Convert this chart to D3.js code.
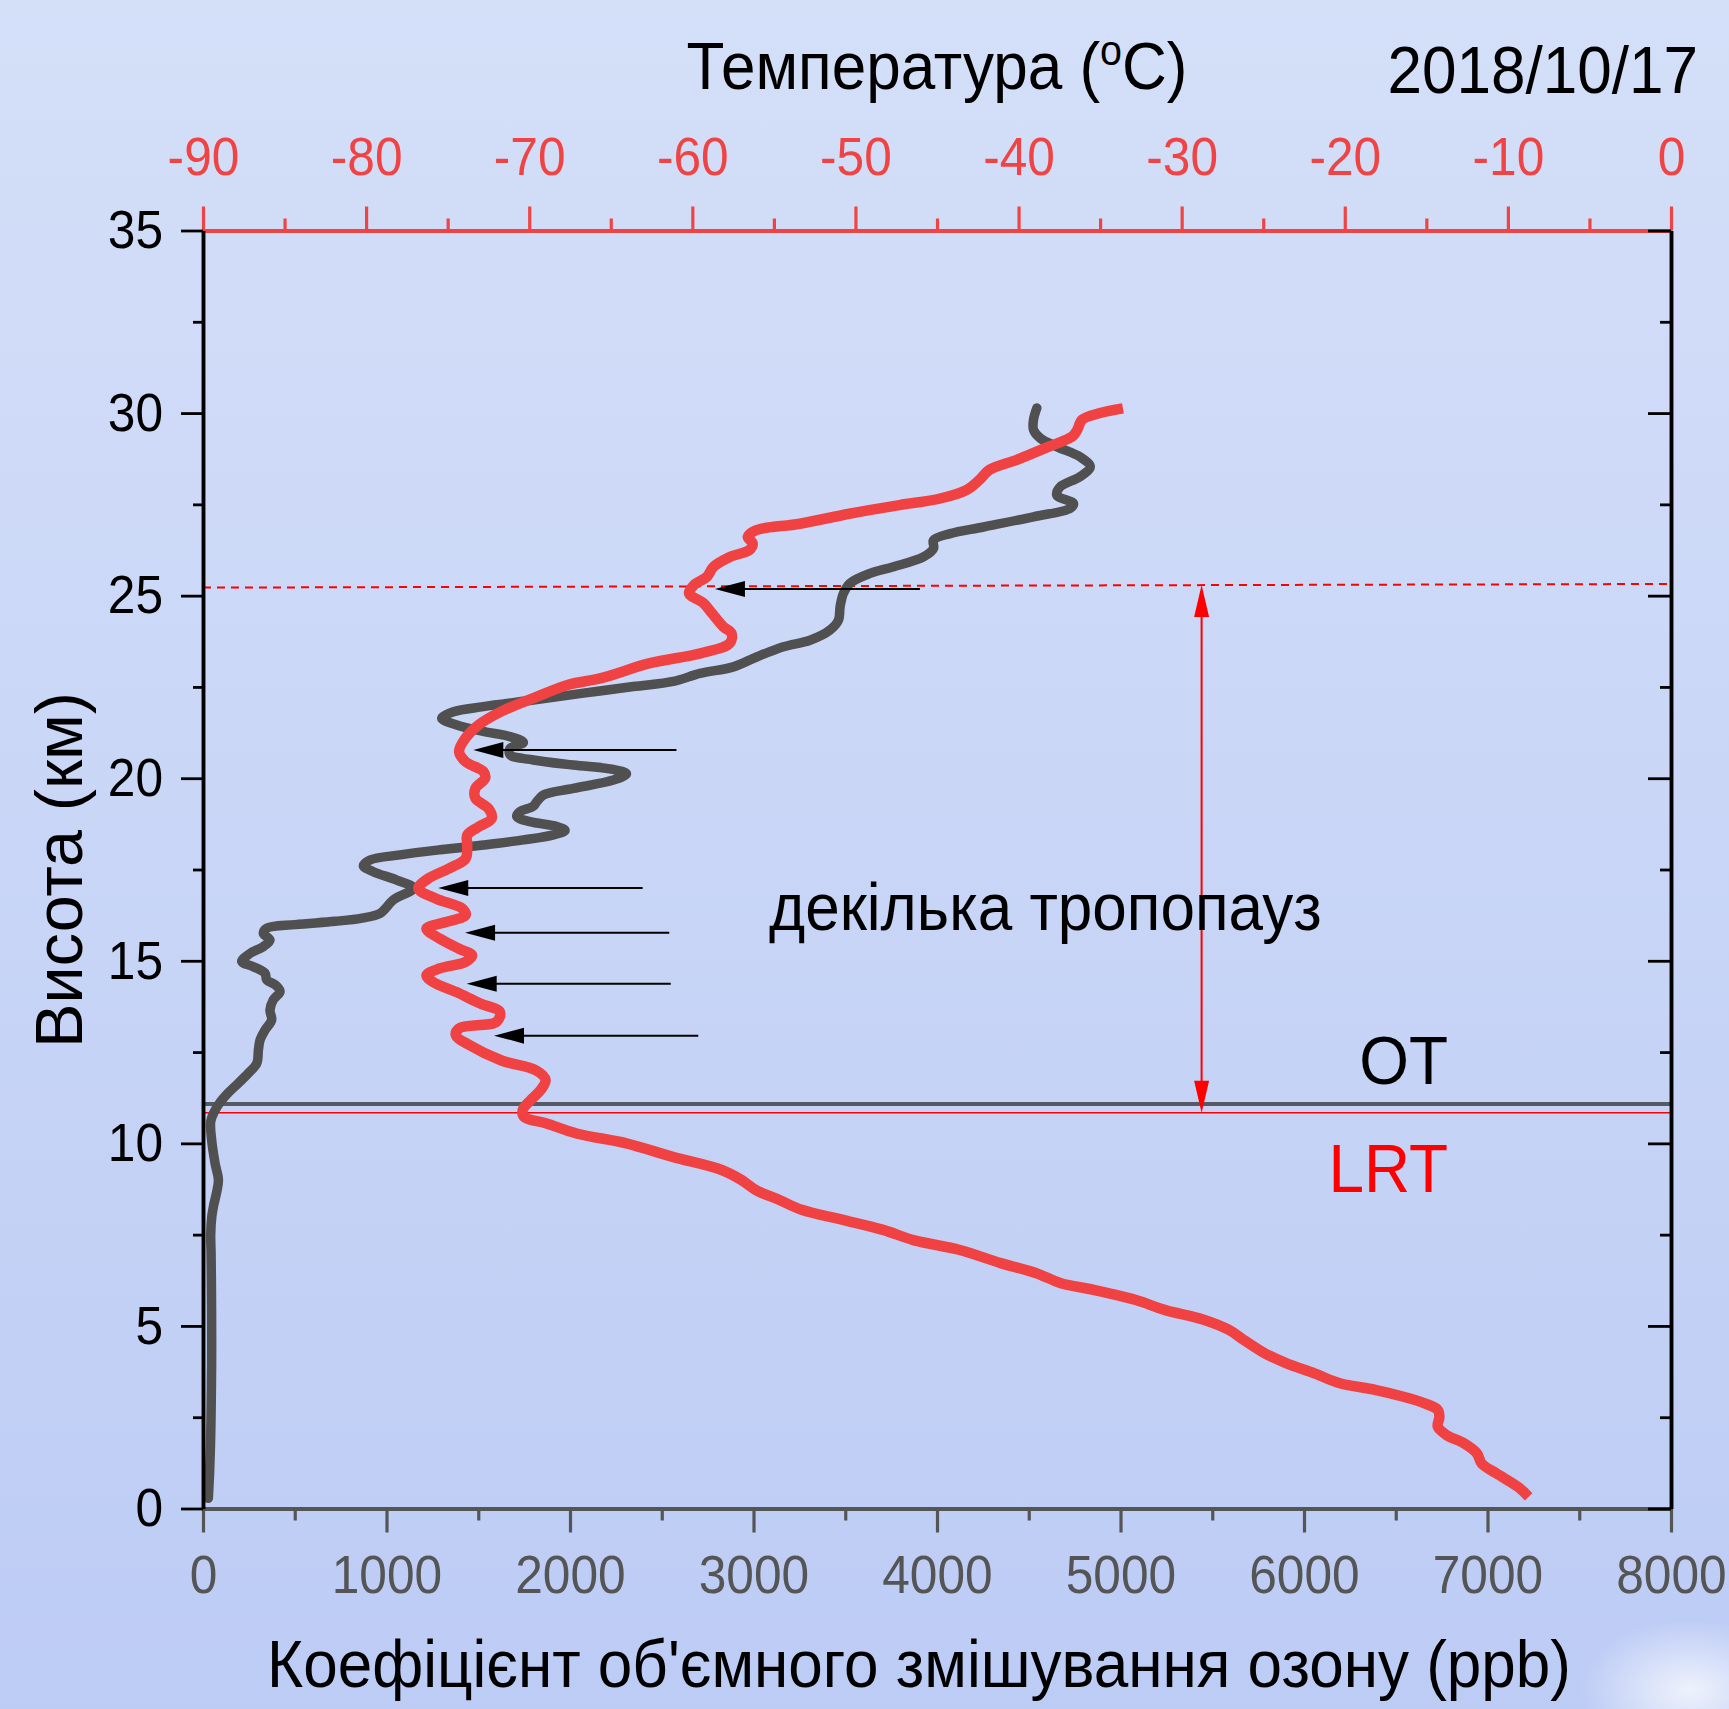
<!DOCTYPE html>
<html lang="uk">
<head>
<meta charset="UTF-8">
<title>Озон і температура 2018/10/17</title>
<script src="https://d3js.org/d3.v7.min.js"></script>
<style>
  body { margin: 0; background: #c9d6f6; }
  svg { display: block; font-family: "Liberation Sans", Arial, sans-serif; }
</style>
</head>
<body>
<svg width="1729" height="1709"></svg>
<script>
// озон (сірий профіль): висота, км / ppb
const o3Km = [0.28, 1.0, 2.0, 3.0, 4.0, 5.0, 6.0, 7.0, 7.5, 8.0, 8.3, 8.65, 9.0, 9.45, 10.1, 10.6, 10.85,
  11.14, 11.37, 11.65, 11.92, 12.19, 12.56, 12.83, 13.1, 13.38, 13.65, 13.93, 14.16, 14.34, 14.48, 14.66,
  14.84, 14.98, 15.2, 15.39, 15.57, 15.75, 15.89, 15.99, 16.08, 16.17, 16.3, 16.67, 16.99, 17.21, 17.44,
  17.6, 17.76, 17.9, 18.04, 18.17, 18.31, 18.45, 18.57, 18.68, 18.81, 18.95, 19.09, 19.23, 19.36, 19.54,
  19.72, 19.95, 20.12, 20.24, 20.36, 20.5, 20.64, 20.82, 20.98, 21.14, 21.28, 21.46, 21.64, 21.82, 21.96,
  22.14, 22.33, 22.51, 22.65, 22.87, 23.05, 23.32, 23.6, 23.78, 24.06, 24.33, 24.7, 25.06, 25.34, 25.61,
  25.79, 26.06, 26.29, 26.52, 26.7, 26.88, 27.16, 27.39, 27.52, 27.75, 27.98, 28.26, 28.53, 28.8, 29.08,
  29.31, 29.54, 29.82, 30.14];
const o3Ppb = [29, 36, 42, 45, 47, 47, 46, 44, 42, 48, 58, 74, 84, 66, 47, 42, 60,
  95, 135, 193, 247, 293, 302, 311, 338, 374, 365, 383, 420, 395, 347, 338,
  274, 211, 256, 329, 365, 329, 347, 503, 720, 866, 965, 1038, 1147, 1056, 928,
  874, 910, 1074, 1292, 1528, 1746, 1910, 1973, 1928, 1782, 1710, 1728, 1800, 1819, 1855,
  2018, 2236, 2308, 2236, 2018, 1800, 1673, 1673, 1746, 1673, 1528, 1383, 1301, 1365, 1528,
  1800, 2073, 2345, 2563, 2708, 2890, 3017, 3163, 3308, 3417, 3463, 3472, 3490, 3526, 3635,
  3763, 3926, 3981, 3981, 4072, 4253, 4526, 4726, 4744, 4653, 4671, 4780, 4835, 4780, 4653,
  4563, 4526, 4526, 4544];

// температура (червоний профіль): висота, км / °C
const tKm = [0.32, 0.59, 0.96, 1.23, 1.51, 1.78, 2.01, 2.24, 2.51, 2.7, 2.88, 3.06, 3.25, 3.43, 3.7, 3.98,
  4.25, 4.62, 4.89, 5.17, 5.44, 5.71, 5.99, 6.17, 6.45, 6.72, 7.08, 7.35, 7.63, 7.9, 8.18, 8.45, 8.72, 9.0,
  9.27, 9.63, 10.0, 10.27, 10.55, 10.72, 10.91, 11.19, 11.46, 11.74, 12.0, 12.27, 12.7, 12.96, 13.15, 13.33,
  13.6, 13.83, 14.15, 14.42, 14.6, 14.79, 14.97, 15.15, 15.33, 15.61, 15.88, 16.06, 16.25, 16.43, 16.7,
  16.98, 17.25, 17.53, 17.8, 18.16, 18.44, 18.67, 18.9, 19.17, 19.45, 19.72, 20.0, 20.18, 20.45, 20.73,
  21.1, 21.46, 21.83, 22.2, 22.56, 22.74, 23.15, 23.42, 23.7, 23.97, 24.15, 24.52, 24.79, 25.06, 25.29,
  25.52, 25.79, 26.06, 26.25, 26.43, 26.61, 26.79, 26.97, 27.25, 27.48, 27.66, 27.89, 28.17, 28.44, 28.72,
  29.09, 29.36, 29.54, 29.82, 30.0, 30.13];
const tDegC = [-8.73, -9.38, -10.7, -11.6, -11.9, -12.67, -13.76, -14.3, -14.2, -14.3, -15.1, -16.4, -18.14,
  -20.3, -21.86, -23.6, -24.9, -26.2, -27.1, -28.65, -31.05, -32.8, -35.4, -37.4, -38.95, -41.1, -43.6,
  -46.45, -48.3, -50.7, -53.3, -54.66, -56.1, -57.0, -58.2, -61.2, -64.05, -67.1, -68.98, -70.3, -70.4,
  -69.9, -69.3, -69.0, -69.6, -71.7, -73.7, -74.5, -74.3, -72.0, -71.8, -73.0, -74.5, -75.9, -76.3, -75.5,
  -73.9, -73.5, -74.3, -75.5, -76.3, -75.1, -73.9, -74.1, -75.7, -76.8, -76.2, -74.9, -73.9, -73.8, -73.8,
  -73.1, -72.3, -72.5, -73.3, -73.3, -72.7, -72.8, -73.9, -74.3, -73.9, -73.1, -71.7, -69.7, -67.6, -65.6,
  -62.6, -59.5, -57.7, -57.6, -58.1, -58.8, -59.3, -60.2, -59.9, -59.1, -58.7, -57.7, -56.5, -56.3, -56.6,
  -56.1, -53.4, -50.3, -47.3, -44.8, -43.2, -42.4, -41.8, -40.1, -38.1, -36.7, -36.4, -36.1, -35.0, -33.6];

const ozoneTicks = d3.range(0, 8001, 1000);
const tempTicks = d3.range(-90, 1, 10);
const heightTicks = d3.range(0, 36, 5);

// тропопаузи та стрілки
const otKm = 11.08;
const lrtKm = 10.84;
const topTropKm = [25.22, 25.32];       // пунктир: лівий і правий кінець
const arrowKm = [25.18, 20.77, 16.99, 15.77, 14.37, 12.95];
const arrowTipPpb = [2790, 1473, 1282, 1428, 1437, 1586];
const arrowTailPpb = [3907, 2580, 2396, 2541, 2549, 2699];
const spanPpb = 5442;                    // вертикальна двостороння стрілка

const svg = d3.select("svg");
const W = 1729, H = 1709;
const SX = 0.92; // шрифт оригіналу вужчий за Liberation Sans

const defs = svg.append("defs");
const bg = defs.append("linearGradient").attr("id", "bg").attr("x1", 0).attr("y1", 0).attr("x2", 0).attr("y2", 1);
bg.append("stop").attr("offset", "0%").attr("stop-color", "#d4dff8");
bg.append("stop").attr("offset", "100%").attr("stop-color", "#bdccf5");
const glow = defs.append("radialGradient").attr("id", "glow");
glow.append("stop").attr("offset", "0%").attr("stop-color", "#ffffff").attr("stop-opacity", 0.75);
glow.append("stop").attr("offset", "100%").attr("stop-color", "#ffffff").attr("stop-opacity", 0);

svg.append("rect").attr("width", W).attr("height", H).attr("fill", "url(#bg)");
svg.append("ellipse").attr("cx", 1690).attr("cy", 1690).attr("rx", 110).attr("ry", 70).attr("fill", "url(#glow)");

const x = d3.scaleLinear().domain([0, 8000]).range([203, 1671]);
const xT = d3.scaleLinear().domain([-90, 0]).range([203, 1671]);
const y = d3.scaleLinear().domain([0, 35]).range([1508.5, 230.5]);

// горизонтальні лінії тропопауз
svg.append("line")
  .attr("x1", x(0)).attr("x2", x(8000))
  .attr("y1", y(otKm)).attr("y2", y(otKm))
  .attr("stroke", "#565a62").attr("stroke-width", 4);
svg.append("line")
  .attr("x1", x(0)).attr("x2", x(8000))
  .attr("y1", y(lrtKm)).attr("y2", y(lrtKm))
  .attr("stroke", "#ff0000").attr("stroke-width", 1.6);
svg.append("line")
  .attr("x1", x(0)).attr("x2", x(8000))
  .attr("y1", y(topTropKm[0])).attr("y2", y(topTropKm[1]))
  .attr("stroke", "#ff0000").attr("stroke-width", 2)
  .attr("stroke-dasharray", "8,6");

// профілі
const o3 = o3Km.map((k, i) => ({ km: k, v: o3Ppb[i] }));
const temp = tKm.map((k, i) => ({ km: k, v: tDegC[i] }));

svg.append("path")
  .datum(o3)
  .attr("fill", "none")
  .attr("stroke", "#505050")
  .attr("stroke-width", 9.5)
  .attr("stroke-linecap", "round")
  .attr("stroke-linejoin", "round")
  .attr("d", d3.line().x(d => x(d.v)).y(d => y(d.km)).curve(d3.curveCatmullRom.alpha(0.5)));

svg.append("path")
  .datum(temp)
  .attr("fill", "none")
  .attr("stroke", "#f04242")
  .attr("stroke-width", 10.5)
  .attr("stroke-linejoin", "round")
  .attr("d", d3.line().x(d => xT(d.v)).y(d => y(d.km)).curve(d3.curveCatmullRom.alpha(0.5)));

// осі
function styleAxis(g, color, width) {
  g.select(".domain").attr("stroke", color).attr("stroke-width", width);
  g.selectAll(".tick line").attr("stroke", color).attr("stroke-width", width * 0.8);
  g.selectAll(".tick text").attr("fill", color).attr("font-size", 54)
    .attr("font-family", "'Liberation Sans', Arial, sans-serif")
    .attr("transform", `scale(${SX},1)`);
}

// нижня (озон)
const gB = svg.append("g").attr("transform", `translate(0,${y(0)})`);
gB.append("g").call(d3.axisBottom(x).tickValues(d3.range(500, 8000, 1000)).tickSize(12).tickSizeOuter(0).tickFormat(""))
  .call(g => styleAxis(g, "#555555", 4));
gB.append("g").call(d3.axisBottom(x).tickValues(ozoneTicks).tickSize(24).tickSizeOuter(0).tickPadding(22).tickFormat(d => String(d)))
  .call(g => styleAxis(g, "#555555", 4));

// верхня (температура)
const gT = svg.append("g").attr("transform", `translate(0,${y(35)})`);
gT.append("g").call(d3.axisTop(xT).tickValues(d3.range(-85, 0, 10)).tickSize(12).tickSizeOuter(0).tickFormat(""))
  .call(g => styleAxis(g, "#f04444", 4));
gT.append("g").call(d3.axisTop(xT).tickValues(tempTicks).tickSize(24).tickSizeOuter(0).tickPadding(32).tickFormat(d => String(d)))
  .call(g => styleAxis(g, "#f04444", 4));

// ліва (висота)
const gL = svg.append("g").attr("transform", `translate(${x(0)},0)`);
gL.append("g").call(d3.axisLeft(y).tickValues(d3.range(2.5, 35, 5)).tickSize(10).tickSizeOuter(0).tickFormat(""))
  .call(g => styleAxis(g, "#000000", 3.5));
gL.append("g").call(d3.axisLeft(y).tickValues(heightTicks).tickSize(22).tickSizeOuter(0).tickPadding(18).tickFormat(d => String(d)))
  .call(g => styleAxis(g, "#000000", 3.5))
  .call(g => g.selectAll(".tick text").attr("x", -40 / SX));

// права (без підписів, штрихи всередину)
const gR = svg.append("g").attr("transform", `translate(${x(8000)},0)`);
gR.append("g").call(d3.axisRight(y).tickValues(d3.range(2.5, 35, 5)).tickSize(-11).tickSizeOuter(0).tickFormat(""))
  .call(g => styleAxis(g, "#000000", 3.5));
gR.append("g").call(d3.axisRight(y).tickValues(heightTicks).tickSize(-23).tickSizeOuter(0).tickFormat(""))
  .call(g => styleAxis(g, "#000000", 3.5));

// чорні стрілки на тропопаузи
const headLen = 30, headHalf = 8;
arrowKm.forEach((k, i) => {
  const yy = y(k), xt = x(arrowTipPpb[i]), xe = x(arrowTailPpb[i]);
  svg.append("line").attr("x1", xt + headLen - 2).attr("x2", xe)
    .attr("y1", yy).attr("y2", yy).attr("stroke", "#000").attr("stroke-width", 2);
  svg.append("path")
    .attr("d", `M${xt},${yy} L${xt + headLen},${yy - headHalf} L${xt + headLen},${yy + headHalf} Z`)
    .attr("fill", "#000");
});

// червона двостороння стрілка
{
  const xs = x(spanPpb), yTop = y(25.29), yBot = y(lrtKm), hl = 32, hh = 7.5;
  svg.append("line").attr("x1", xs).attr("x2", xs).attr("y1", yTop + hl - 2).attr("y2", yBot - hl + 2)
    .attr("stroke", "#ff0000").attr("stroke-width", 2);
  svg.append("path").attr("d", `M${xs},${yTop} L${xs - hh},${yTop + hl} L${xs + hh},${yTop + hl} Z`).attr("fill", "#ff0000");
  svg.append("path").attr("d", `M${xs},${yBot} L${xs - hh},${yBot - hl} L${xs + hh},${yBot - hl} Z`).attr("fill", "#ff0000");
}

// підписи (стиснуті по горизонталі навколо точки прив'язки)
function label(px, py, txt, opts) {
  const o = Object.assign({ size: 66, anchor: "start", color: "#000", rotate: 0, sx: 0.94 }, opts);
  const t = svg.append("text")
    .attr("transform", `translate(${px},${py}) rotate(${o.rotate}) scale(${o.sx},1)`)
    .attr("text-anchor", o.anchor).attr("font-size", o.size).attr("fill", o.color);
  if (txt) t.text(txt);
  return t;
}

const tTitle = label(937, 89, null, { anchor: "middle" });
tTitle.append("tspan").text("Температура (");
tTitle.append("tspan").attr("font-size", 42).attr("dy", -24).text("o");
tTitle.append("tspan").attr("dy", 24).text("C)");

label(1698, 93, "2018/10/17", { anchor: "end" });
label(919, 1687, "Коефіцієнт об'ємного змішування озону (ppb)", { anchor: "middle" });
label(82, 870, "Висота (км)", { anchor: "middle", rotate: -90, sx: 1.01 });
label(769, 930, "декілька тропопауз", { size: 66 });
label(1448, 1084, "OT", { anchor: "end", size: 68 });
label(1448, 1192, "LRT", { anchor: "end", size: 68, color: "#ff0000" });
</script>
</body>
</html>
